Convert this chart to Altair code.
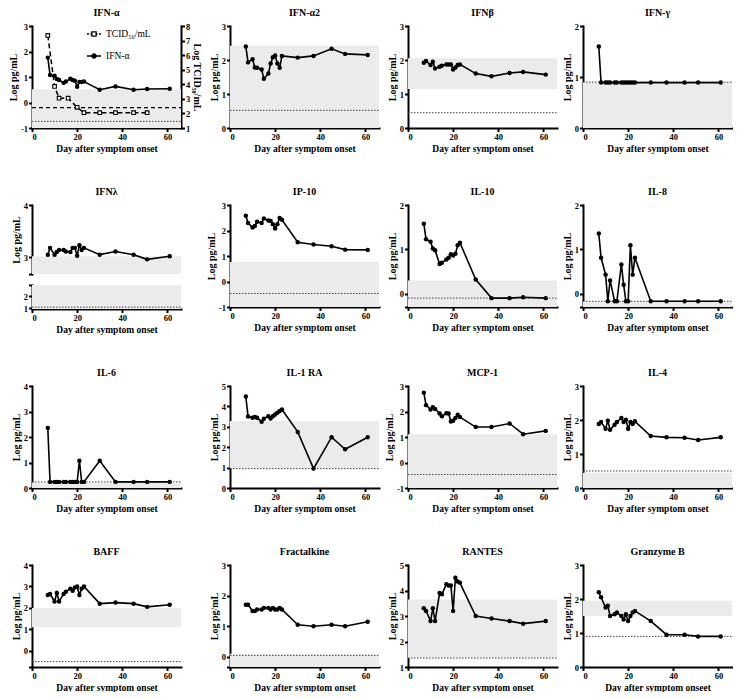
import altair as alt
import pandas as pd

FONT = "Liberation Serif"
BAND = "#ebebeb"
XDOM = [0, 66]
W, H = 149, 102
XT = "Day after symptom onset"

# ---------------- data ----------------
days = [7, 8, 10, 11, 12, 14, 15, 17, 18, 19, 20, 21, 22, 23, 30, 37, 45, 51, 61]

ifn_a = [1.76, 1.08, 1.05, 0.92, 0.88, 0.77, 0.82, 0.93, 0.88, 0.85, 0.62, 0.80, 0.80, 0.82, 0.50, 0.63, 0.50, 0.53, 0.54]
tcid_days = [7, 10, 12, 16, 20, 23, 30, 37, 45, 51]
tcid_vals = [7.35, 3.85, 3.05, 3.05, 2.42, 2.05, 2.05, 2.05, 2.05, 2.05]
tcid_lod = 2.4
ifn_a2 = [2.40, 1.93, 2.02, 1.78, 1.77, 1.72, 1.45, 1.60, 1.90, 2.08, 2.13, 1.90, 1.77, 2.12, 2.07, 2.12, 2.33, 2.18, 2.15]
ifn_b = [1.92, 1.97, 1.85, 1.95, 1.75, 1.80, 1.83, 1.87, 1.87, 1.87, 1.72, 1.78, 1.85, 1.87, 1.60, 1.52, 1.62, 1.65, 1.57]
ifn_g = [1.60, 0.89, 0.89, 0.89, 0.89, 0.89, 0.89, 0.89, 0.89, 0.89, 0.89, 0.89, 0.89, 0.89, 0.89, 0.89, 0.89, 0.89, 0.89]
ifn_l = [3.05, 3.18, 3.05, 3.10, 3.14, 3.14, 3.11, 3.10, 3.18, 3.18, 3.03, 3.23, 3.14, 3.18, 3.05, 3.11, 3.05, 2.96, 3.02]
ip10 = [2.58, 2.29, 2.12, 2.18, 2.34, 2.29, 2.47, 2.39, 2.37, 2.25, 2.08, 2.25, 2.49, 2.42, 1.54, 1.45, 1.38, 1.25, 1.24]
il10 = [1.58, 1.23, 1.17, 1.02, 0.98, 0.67, 0.70, 0.77, 0.81, 0.89, 0.86, 0.90, 1.09, 1.15, 0.32, -0.10, -0.10, -0.08, -0.10]
il8 = [1.36, 0.81, 0.43, -0.17, 0.30, -0.17, -0.17, 0.66, 0.20, -0.17, -0.17, 1.09, 0.43, 0.81, -0.17, -0.17, -0.17, -0.17, -0.17]
il6 = [2.35, 0.24, 0.24, 0.24, 0.24, 0.24, 0.24, 0.24, 0.24, 0.24, 0.24, 1.07, 0.24, 0.24, 1.07, 0.24, 0.24, 0.24, 0.24]
il1ra = [4.48, 3.50, 3.44, 3.48, 3.44, 3.25, 3.40, 3.52, 3.41, 3.52, 3.60, 3.69, 3.77, 3.85, 2.75, 0.95, 2.49, 1.90, 2.49]
mcp1 = [2.74, 2.25, 2.08, 2.17, 2.10, 1.92, 1.81, 1.93, 1.92, 1.61, 1.64, 1.75, 1.87, 1.78, 1.39, 1.39, 1.53, 1.11, 1.24]
il4 = [1.88, 1.94, 1.74, 1.98, 1.71, 1.86, 1.94, 2.06, 1.94, 2.01, 1.74, 1.94, 1.88, 1.96, 1.53, 1.49, 1.48, 1.41, 1.49]
baff = [2.60, 2.65, 2.30, 2.70, 2.30, 2.65, 2.75, 2.90, 2.80, 2.95, 3.00, 2.60, 2.90, 3.00, 2.20, 2.25, 2.20, 2.05, 2.15]
fractalkine = [1.70, 1.70, 1.50, 1.50, 1.55, 1.55, 1.60, 1.60, 1.55, 1.60, 1.55, 1.55, 1.60, 1.55, 1.05, 1.00, 1.05, 1.00, 1.15]
rantes = [3.30, 3.20, 2.80, 3.30, 2.80, 3.90, 3.85, 4.25, 4.20, 4.20, 3.20, 4.50, 4.35, 4.30, 3.00, 2.90, 2.80, 2.70, 2.80]
granzyme_b = [2.20, 2.05, 1.75, 1.80, 1.50, 1.55, 1.60, 1.50, 1.40, 1.55, 1.35, 1.50, 1.60, 1.65, 1.35, 0.95, 0.95, 0.90, 0.90]

legend_labels = ["TCID\u2085\u2080/mL", "IFN-\u03b1"]

LABEL_EXPR = "datum.value % 1 != 0 ? '' : '' + datum.value"


def xscale():
    return alt.Scale(domain=XDOM, nice=False)


def xaxis(title=XT, show=True):
    if not show:
        return None
    return alt.Axis(values=[0, 20, 40, 60], title=title)


def base_layers(vals, dom, ticks, band, lod, xtitle=XT, showx=True, ytitle="Log pg/mL"):
    ysc = alt.Scale(domain=dom, nice=False, zero=False)
    yax = alt.Axis(values=ticks, title=ytitle, labelExpr=LABEL_EXPR)
    xs = xscale()
    xax = xaxis(xtitle, showx)
    bdf = pd.DataFrame({"lo": [band[0]], "hi": [band[1]], "lod": [lod]})
    layers = []
    layers.append(
        alt.Chart(bdf).mark_rect(color=BAND).encode(
            x=alt.X(datum=XDOM[0], scale=xs, axis=xax),
            x2=alt.X2(datum=XDOM[1]),
            y=alt.Y("lo:Q", scale=ysc, axis=yax),
            y2="hi:Q",
        )
    )
    if lod is not None:
        layers.append(
            alt.Chart(bdf).mark_rule(color="#444444", strokeWidth=1, strokeDash=[1.5, 1.5]).encode(
                x=alt.X(datum=XDOM[0], scale=xs, axis=xax),
                x2=alt.X2(datum=XDOM[1]),
                y=alt.Y("lod:Q", scale=ysc, axis=yax),
            )
        )
    if vals is not None:
        df = pd.DataFrame({"day": days, "val": vals})
        layers.append(
            alt.Chart(df).mark_line(color="black", strokeWidth=1.6).encode(
                x=alt.X("day:Q", scale=xs, axis=xax),
                y=alt.Y("val:Q", scale=ysc, axis=yax),
            )
        )
        layers.append(
            alt.Chart(df).mark_circle(color="black", size=20, opacity=1).encode(
                x=alt.X("day:Q", scale=xs, axis=xax),
                y=alt.Y("val:Q", scale=ysc, axis=yax),
            )
        )
    return layers


def panel(title, vals, dom, ticks, band, lod, xtitle=XT):
    return alt.layer(*base_layers(vals, dom, ticks, band, lod, xtitle)).properties(
        width=W, height=H, title=title
    )


# ---------- IFN-alpha with secondary axis ----------
left_layers = base_layers(ifn_a, [-1, 3], [-1, 0, 1, 2, 3], [-1, 0.52], -0.74)
path_t = "M-1,0H-0.72M-0.5,0H-0.3M0.3,0H0.5M0.72,0H1M-0.3,-0.3H0.3V0.3H-0.3Z"
path_i = "M-1,0H1M-0.3,0A0.3,0.3,0,1,0,0.3,0A0.3,0.3,0,1,0,-0.3,0Z"
leg = alt.Legend(
    orient="none", legendX=54, legendY=0, title=None,
    symbolSize=200, symbolStrokeWidth=1.3, symbolStrokeColor="black", symbolOpacity=1,
    labelFont=FONT, labelFontSize=9.5, labelColor="black", labelFontWeight="normal",
    rowPadding=9, labelOffset=4,
)
leg_df = pd.DataFrame({"series": legend_labels})
left_layers.append(
    alt.Chart(leg_df).mark_point(filled=False, color="black", clip=True).encode(
        x=alt.X(datum=-100, scale=xscale(), axis=xaxis()),
        shape=alt.Shape("series:N", scale=alt.Scale(domain=legend_labels, range=[path_t, path_i]), legend=leg),
        fill=alt.Fill("series:N", scale=alt.Scale(domain=legend_labels, range=["white", "black"]), legend=leg),
        stroke=alt.Stroke("series:N", scale=alt.Scale(domain=legend_labels, range=["black", "black"]), legend=leg),
    )
)
left = alt.layer(*left_layers)

rsc = alt.Scale(domain=[1, 8], nice=False, zero=False)
rax = alt.Axis(orient="right", values=[1, 2, 3, 4, 5, 6, 7, 8], title="Log TCID\u2085\u2080/mL")
tdf = pd.DataFrame({"day": tcid_days, "val": tcid_vals})
tlod = pd.DataFrame({"lod": [tcid_lod]})
right = alt.layer(
    alt.Chart(tlod).mark_rule(color="black", strokeWidth=1.3, strokeDash=[4, 3]).encode(
        x=alt.X(datum=XDOM[0], scale=xscale(), axis=xaxis()),
        x2=alt.X2(datum=XDOM[1]),
        y=alt.Y("lod:Q", scale=rsc, axis=rax),
    ),
    alt.Chart(tdf).mark_line(color="black", strokeWidth=1.5, strokeDash=[5, 3]).encode(
        x=alt.X("day:Q", scale=xscale(), axis=xaxis()),
        y=alt.Y("val:Q", scale=rsc, axis=rax),
    ),
    alt.Chart(tdf).mark_point(shape="square", filled=True, fill="white", stroke="black",
                              strokeWidth=1.1, size=13, opacity=1).encode(
        x=alt.X("day:Q", scale=xscale(), axis=xaxis()),
        y=alt.Y("val:Q", scale=rsc, axis=rax),
    ),
)
p_ifna = alt.layer(left, right).resolve_scale(y="independent").properties(
    width=W, height=H, title="IFN-\u03b1"
)

# ---------- IFN-lambda with broken axis ----------
upper = alt.layer(
    *base_layers(ifn_l, [2.68, 4], [2.68, 3, 4], [2.68, 3.02], None, showx=False)
).properties(width=W, height=69, title="IFN\u03bb")
lower = alt.layer(
    *base_layers(None, [0.95, 2.9], [1, 2, 2.9], [0.95, 2.9], 1.1, ytitle="")
).properties(width=W, height=24)
p_ifnl = alt.vconcat(upper, lower, spacing=9)

cells = [
    p_ifna,
    panel("IFN-\u03b12", ifn_a2, [0, 3], [0, 1, 2, 3], [0, 2.42], 0.52),
    panel("IFN\u03b2", ifn_b, [0, 3], [0, 1, 2, 3], [1.15, 2.05], 0.45),
    panel("IFN-\u03b3", ifn_g, [0, 2], [0, 1, 2], [0, 0.9], 0.9),
    p_ifnl,
    panel("IP-10", ip10, [-1, 3], [-1, 0, 1, 2, 3], [-1, 0.76], -0.47),
    panel("IL-10", il10, [-0.3, 2], [-0.3, 0, 1, 2], [-0.3, 0.3], -0.1),
    panel("IL-8", il8, [-0.3, 2], [-0.3, 0, 1, 2], [-0.3, -0.17], -0.17),
    panel("IL-6", il6, [0, 4], [0, 1, 2, 3, 4], [0, 0.22], 0.24),
    panel("IL-1 RA", il1ra, [0, 5], [0, 1, 2, 3, 4, 5], [0.95, 3.28], 0.95),
    panel("MCP-1", mcp1, [-1, 3], [-1, 0, 1, 2, 3], [-1, 1.11], -0.47),
    panel("IL-4", il4, [0, 3], [0, 1, 2, 3], [0, 0.45], 0.5),
    panel("BAFF", baff, [-0.75, 4], [-0.75, 0, 1, 2, 3, 4], [1.1, 2.0], -0.5),
    panel("Fractalkine", fractalkine, [-0.33, 3], [-0.33, 0, 1, 2, 3], [-0.33, 0.1], 0.05),
    panel("RANTES", rantes, [1, 5], [1, 2, 3, 4, 5], [1.35, 3.65], 1.35),
    panel("Granzyme B", granzyme_b, [0, 3], [0, 1, 2, 3], [1.5, 1.95], 0.9,
          xtitle="Day after symptom onseet"),
]

chart = (
    alt.concat(*cells, columns=4, spacing=alt.RowColnumber(row=34, column=4))
    .properties(padding=0)
    .configure_view(stroke=None)
    .configure_axis(
        domainColor="black", domainWidth=2, domainCap="square",
        tickColor="black", tickWidth=2, tickSize=3.5,
        labelFont=FONT, labelFontSize=8.5, labelFontWeight="bold", labelColor="black", labelPadding=1,
        titleFont=FONT, titleFontSize=10, titleFontWeight="bold", titleColor="black", titlePadding=2,
        grid=False,
    )
    .configure_axisX(titleFontSize=9.5)
    .configure_title(font=FONT, fontSize=10, fontWeight="bold", color="black", offset=0)
)

chart.save("out.html", embed_options={"renderer": "svg", "actions": False})
